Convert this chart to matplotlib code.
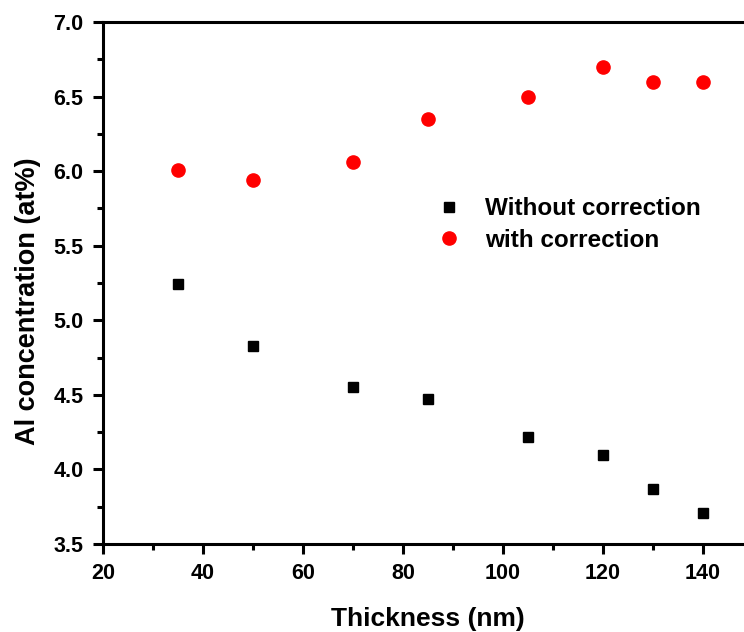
import matplotlib.pyplot as plt
from matplotlib.ticker import MultipleLocator

plt.rcParams['font.family'] = ['Liberation Sans', 'DejaVu Sans']
plt.rcParams['font.weight'] = 'bold'

thickness = [35, 50, 70, 85, 105, 120, 130, 140]
without_corr = [5.24, 4.83, 4.55, 4.47, 4.22, 4.10, 3.87, 3.71]
with_corr = [6.01, 5.94, 6.06, 6.35, 6.50, 6.70, 6.60, 6.60]

fig = plt.figure(figsize=(7.44, 6.32), dpi=100)
ax = fig.add_axes([103 / 744, 88 / 632, 650 / 744, 522 / 632])

ax.plot(thickness, without_corr, 's', color='black', ms=7.5, label='Without correction')
ax.plot(thickness, with_corr, 'o', color='red', ms=9.5, label='with correction')

ax.set_xlim(20, 150)
ax.set_ylim(3.5, 7.0)
ax.xaxis.set_major_locator(MultipleLocator(20))
ax.xaxis.set_minor_locator(MultipleLocator(10))
ax.yaxis.set_major_locator(MultipleLocator(0.5))
ax.yaxis.set_minor_locator(MultipleLocator(0.25))

for s in ax.spines.values():
    s.set_linewidth(2.2)
ax.tick_params(which='major', direction='out', length=7, width=2.2, labelsize=15.5, pad=7)
ax.tick_params(which='minor', direction='out', length=4, width=2.2)

ax.set_xlabel('Thickness (nm)', fontsize=19, fontweight='bold', labelpad=16)
ax.set_ylabel('Al concentration (at%)', fontsize=19.5, fontweight='bold', labelpad=14)
ax.yaxis.set_label_coords(-0.096, 0.466)

ax.legend(loc='upper left', bbox_to_anchor=(0.498, 0.683), frameon=False, fontsize=17.5,
          handletextpad=1.0, labelspacing=0.35, handlelength=1.0, borderaxespad=0)

fig.savefig('out.png', dpi=100)
